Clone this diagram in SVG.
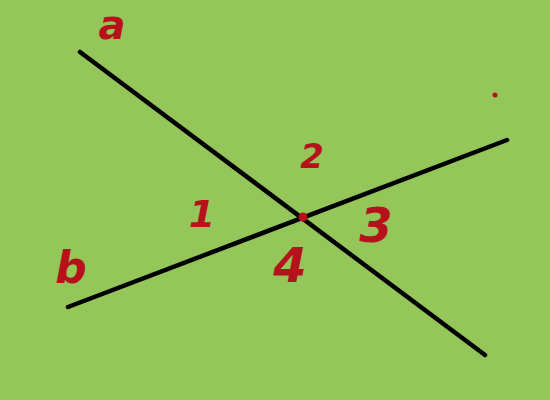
<svg xmlns="http://www.w3.org/2000/svg" width="550" height="400" viewBox="0 0 550 400">
<style>
.lbl{font-family:"DejaVu Sans","Liberation Sans",sans-serif;fill:#b5121b;text-anchor:middle;font-style:oblique;font-weight:bold}
.ln{stroke:#000;stroke-width:4.5;stroke-linecap:round;fill:none}
</style>
<rect width="550" height="400" fill="#94c65a"/>
<g id="connectors">
<line class="ln" x1="80" y1="52" x2="485" y2="355"/>
<line class="ln" x1="68" y1="307" x2="507" y2="140"/>
</g>
<g id="point-O"><circle cx="303" cy="217" r="4.5" fill="#b5121b"/></g>
<g id="point-dot"><circle cx="495" cy="95" r="2.5" fill="#b5121b"/></g>
<g id="label-a"><text class="lbl" x="112" y="39" font-size="40">a</text></g>
<g id="label-b"><text class="lbl" x="71" y="283" font-size="44">b</text></g>
<g id="label-1"><text class="lbl" x="202" y="227" font-size="38">1</text></g>
<g id="label-2"><text class="lbl" x="312" y="168" font-size="34">2</text></g>
<g id="label-3"><text class="lbl" x="376" y="242" font-size="48">3</text></g>
<g id="label-4"><text class="lbl" x="290" y="282" font-size="48">4</text></g>
</svg>
